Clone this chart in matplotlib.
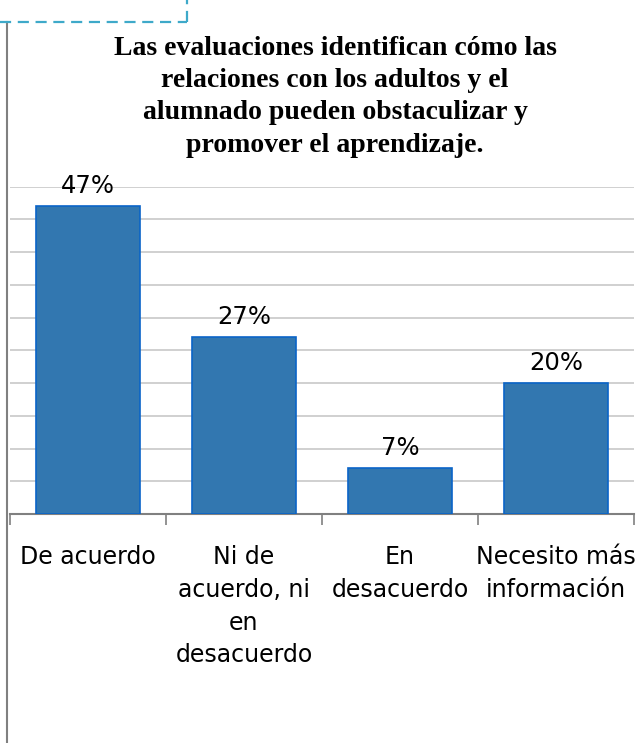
import numpy as np
import matplotlib.pyplot as plt
from matplotlib.lines import Line2D

categories = ["De acuerdo", "Ni de\nacuerdo, ni\nen\ndesacuerdo", "En\ndesacuerdo", "Necesito más\ninformación"]
values = [47, 27, 7, 20]
labels = ["47%", "27%", "7%", "20%"]
title = ("Las evaluaciones identifican cómo las\nrelaciones con los adultos y el\n"
         "alumnado pueden obstaculizar y\npromover el aprendizaje.")

W, H = 640, 743
fig = plt.figure(figsize=(W / 100, H / 100), dpi=100)

# outer frame pieces (grey border on the left, dashed blue corner at the top)
fig.add_artist(Line2D([7 / W, 7 / W], [0, 1 - 22 / H], color="#808080", lw=1.5))
fig.add_artist(Line2D([0, 187 / W], [1 - 22 / H, 1 - 22 / H], color="#3ea9c9", lw=1.6, ls=(0, (5, 3))))
fig.add_artist(Line2D([187 / W, 187 / W], [1 - 22 / H, 1], color="#3ea9c9", lw=1.6, ls=(0, (5, 3))))

ax = fig.add_axes([10 / W, 1 - 514 / H, 624 / W, (514 - 186.7) / H])
x = np.arange(len(values))
ax.bar(x, values, width=0.67, color="#3277b0", edgecolor="#0a64c8", linewidth=1.2, zorder=3)
for xi, v, lab in zip(x, values, labels):
    ax.text(xi, v + 1.2, lab, ha="center", va="bottom", fontsize=17.5, family="DejaVu Sans")

ax.set_xlim(-0.5, len(values) - 0.5)
ax.set_ylim(0, 50)
ax.set_yticks(np.arange(0, 51, 5))
ax.yaxis.grid(True, color="#c8c8c8", lw=1.2, zorder=0)
ax.tick_params(axis="y", left=False, labelleft=False)
for s in ["left", "right", "top"]:
    ax.spines[s].set_visible(False)
ax.spines["bottom"].set_color("#808080")
ax.spines["bottom"].set_linewidth(1.5)
ax.set_xticks(np.arange(-0.5, len(values), 1.0))
ax.tick_params(axis="x", length=8, color="#808080", width=1.2, labelbottom=False)

for xi, c in zip(x, categories):
    ax.text(xi, -4.8, c, ha="center", va="top", fontsize=17, family="DejaVu Sans",
            linespacing=1.45)

fig.text(335 / W, 1 - 36 / H, title, ha="center", va="top", fontsize=20,
         family="Liberation Serif", fontweight="bold", linespacing=1.38)

fig.savefig("out.png", dpi=100)
